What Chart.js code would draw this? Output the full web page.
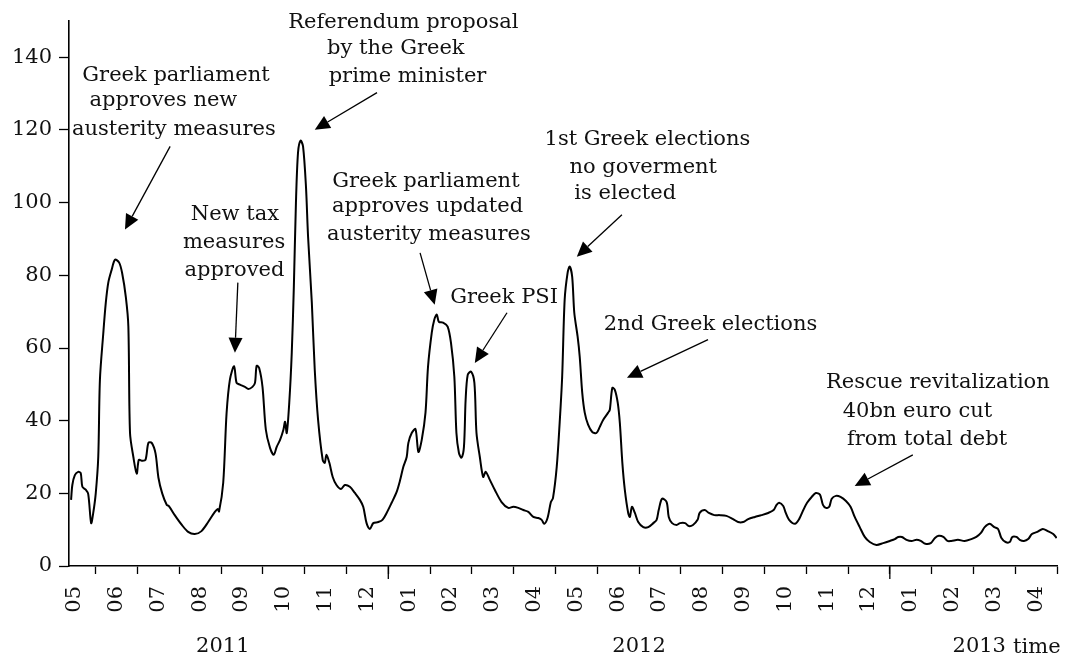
<!DOCTYPE html>
<html><head><meta charset="utf-8">
<script src="https://cdn.jsdelivr.net/npm/chart.js@4"></script>
<style>html,body{margin:0;padding:0;background:#fff}#wrap{width:1075px;height:659px;position:relative}</style>
</head><body><div id="wrap"><canvas id="c" width="1075" height="659"></canvas></div>
<script>
// x = months elapsed since start of May 2011
const monthPos = [0.41,0.44,0.50,0.58,0.64,0.68,0.76,0.82,0.89,0.94,1.00,1.06,1.10,1.18,1.24,1.30,1.38,1.46,1.56,1.63,1.72,1.78,1.82,1.90,1.98,2.03,2.10,2.19,2.26,2.34,2.43,2.50,2.59,2.70,2.75,2.89,3.06,3.21,3.37,3.53,3.69,3.85,3.92,3.95,4.05,4.13,4.21,4.31,4.37,4.45,4.57,4.65,4.75,4.81,4.85,4.91,4.99,5.07,5.17,5.26,5.33,5.41,5.49,5.53,5.57,5.63,5.69,5.74,5.79,5.84,5.90,5.96,6.03,6.08,6.17,6.24,6.32,6.43,6.48,6.52,6.59,6.67,6.76,6.87,6.96,7.08,7.20,7.32,7.40,7.48,7.56,7.64,7.76,7.86,7.96,8.08,8.20,8.28,8.36,8.44,8.48,8.56,8.65,8.72,8.80,8.89,8.95,9.04,9.10,9.16,9.21,9.31,9.42,9.50,9.58,9.63,9.69,9.75,9.81,9.85,9.90,9.98,10.06,10.11,10.19,10.27,10.33,10.43,10.55,10.71,10.87,10.99,11.11,11.23,11.35,11.47,11.59,11.67,11.73,11.81,11.89,11.94,12.03,12.10,12.16,12.22,12.29,12.34,12.40,12.45,12.53,12.58,12.64,12.70,12.78,12.88,12.98,13.06,13.14,13.26,13.30,13.36,13.42,13.49,13.54,13.60,13.66,13.74,13.78,13.83,13.90,13.98,14.10,14.22,14.34,14.42,14.47,14.55,14.66,14.71,14.79,14.90,14.98,15.10,15.19,15.29,15.40,15.45,15.57,15.67,15.80,15.93,16.09,16.25,16.37,16.49,16.61,16.77,16.93,17.09,17.22,17.29,17.35,17.45,17.51,17.59,17.73,17.83,17.93,18.02,18.13,18.23,18.33,18.40,18.47,18.55,18.61,18.71,18.82,18.95,19.06,19.16,19.28,19.40,19.52,19.68,19.84,20.00,20.12,20.20,20.29,20.40,20.52,20.64,20.74,20.85,20.98,21.08,21.17,21.28,21.38,21.47,21.63,21.79,21.95,22.07,22.18,22.27,22.39,22.50,22.59,22.67,22.77,22.87,22.93,23.03,23.11,23.21,23.31,23.40,23.53,23.66,23.78,23.91,23.99];
const interest = [18.2,22.3,25.0,25.9,25.6,21.8,21.0,19.8,11.8,14.6,20.0,30.0,51.3,64.0,72.4,78.0,81.5,84.3,83.5,80.7,74.0,66.0,36.6,30.0,25.4,29.2,29.0,29.2,33.9,33.9,31.0,24.3,20.0,16.8,16.5,14.0,11.3,9.4,8.8,9.6,12.1,14.9,15.7,15.0,22.9,42.0,51.3,55.0,50.4,49.9,49.3,48.7,49.3,50.4,55.1,54.5,49.3,37.5,32.5,30.6,32.8,34.7,37.5,39.7,36.6,44.9,58.7,76.9,100.0,113.8,117.1,115.5,104.4,90.7,72.5,54.0,40.2,29.2,28.4,30.6,28.4,24.5,22.3,21.2,22.3,21.8,20.1,18.2,16.3,11.8,10.2,11.8,12.1,12.7,14.6,17.4,20.4,23.5,27.3,30.0,33.9,36.6,37.7,31.4,34.7,42.2,54.8,64.2,67.8,69.2,67.2,67.0,65.9,61.4,52.1,36.6,31.1,29.8,32.8,45.7,52.6,53.5,50.4,36.6,30.0,24.5,25.9,23.7,20.9,17.6,16.0,16.3,16.0,15.4,14.9,13.5,13.2,12.7,11.6,13.2,17.6,18.7,27.3,39.4,52.1,73.3,80.7,82.4,79.6,69.7,63.1,57.6,47.7,42.2,38.9,36.9,36.6,38.3,40.2,42.2,43.0,49.0,48.5,44.9,39.4,28.4,20.9,14.6,13.5,16.3,14.6,12.1,10.7,10.7,11.8,12.7,15.4,18.5,17.6,13.5,11.8,11.3,11.8,11.8,11.0,11.3,12.7,14.6,15.4,14.6,14.0,14.0,13.8,12.9,12.1,12.1,12.9,13.5,14.0,14.6,15.4,16.8,17.4,16.5,14.6,12.7,11.6,12.9,15.4,17.4,19.0,20.1,19.6,16.8,16.0,16.3,18.5,19.3,19.0,17.9,16.3,13.5,10.7,8.0,6.6,5.8,6.3,6.9,7.4,8.0,8.0,7.2,6.9,7.2,6.9,6.1,6.3,7.7,8.3,8.0,6.9,6.9,7.2,6.9,7.4,8.0,9.1,10.7,11.6,10.7,10.2,7.7,6.6,6.6,8.0,8.0,7.2,6.9,7.4,8.8,9.4,10.2,9.6,8.8,7.7];
const monthLabels = ['05','06','07','08','09','10','11','12','01','02','03','04','05','06','07','08','09','10','11','12','01','02','03','04'];
const yTicks = [0,20,40,60,80,100,120,140];
const yearLabels = ['2011','2012','2013'];
const yearLabelPos = [4.04,14.0,22.14];
const yearBoundaries = [8,20];
const axisTitle = 'time';
const axisTitlePos = 22.95;
// annotation text: [text, month (centre), value (baseline)]
const noteTexts = [
  ['Greek parliament',2.92,133.4],['approves new',2.62,126.5],['austerity measures',2.87,118.5],
  ['New tax',4.33,95.3],['measures',4.31,87.6],['approved',4.32,79.9],
  ['Referendum proposal',8.36,148.2],['by the Greek',8.18,140.8],['prime minister',8.46,133.1],
  ['Greek parliament',8.90,104.4],['approves updated',8.94,97.3],['austerity measures',8.97,89.8],
  ['Greek PSI',10.77,72.5],
  ['1st Greek elections',14.20,116.0],['no goverment',14.10,108.3],['is elected',13.67,100.9],
  ['2nd Greek elections',15.71,65.0],
  ['Rescue revitalization',21.15,49.0],['40bn euro cut',20.66,41.1],['from total debt',20.89,33.3]
];
// arrows: [fromMonth, fromValue, toMonth, toValue]
const noteArrows = [
  [2.78,115.5,1.70,92.6],
  [4.40,78.0,4.33,58.7],
  [7.73,130.3,6.24,120.1],
  [8.76,86.2,9.11,71.9],
  [10.84,69.7,10.07,55.9],
  [13.59,96.7,12.51,85.1],
  [15.65,62.3,13.71,51.8],
  [20.55,30.6,19.16,22.0]
];

const FAM = "'DejaVu Serif', serif";
const TXT = '#111';
const FS = 21;

function drawArrow(ctx,x1,y1,x2,y2){
  const a = Math.atan2(y2-y1,x2-x1), L = 15, W = 7;
  const bx = x2 - L*Math.cos(a), by = y2 - L*Math.sin(a);
  ctx.beginPath(); ctx.moveTo(x1,y1); ctx.lineTo(bx,by); ctx.stroke();
  ctx.beginPath(); ctx.moveTo(x2,y2);
  ctx.lineTo(bx + W*Math.sin(a), by - W*Math.cos(a));
  ctx.lineTo(bx - W*Math.sin(a), by + W*Math.cos(a));
  ctx.closePath(); ctx.fill();
}

const notesPlugin = {
  id:'notes',
  afterDraw(chart){
    const {ctx, chartArea} = chart;
    const x = chart.scales.x, y = chart.scales.y;
    ctx.save();
    ctx.fillStyle = TXT; ctx.strokeStyle = '#000';
    ctx.font = FS + 'px ' + FAM;
    ctx.textAlign = 'center'; ctx.textBaseline = 'alphabetic';
    noteTexts.forEach(t => ctx.fillText(t[0], x.getPixelForValue(t[1]), y.getPixelForValue(t[2])));
    ctx.lineWidth = 1.3; ctx.fillStyle = '#000';
    noteArrows.forEach(a => drawArrow(ctx, x.getPixelForValue(a[0]), y.getPixelForValue(a[1]), x.getPixelForValue(a[2]), y.getPixelForValue(a[3])));
    ctx.fillStyle = TXT;
    yearLabels.forEach((l,i) => ctx.fillText(l, x.getPixelForValue(yearLabelPos[i]), chartArea.bottom + 86));
    ctx.textAlign = 'left';
    ctx.fillText(axisTitle, x.getPixelForValue(axisTitlePos), chartArea.bottom + 87);
    ctx.lineWidth = 1.3;
    yearBoundaries.forEach(m => {
      const px = x.getPixelForValue(m);
      ctx.beginPath(); ctx.moveTo(px, chartArea.bottom); ctx.lineTo(px, chartArea.bottom + 13); ctx.stroke();
    });
    ctx.restore();
  }
};

new Chart(document.getElementById('c'), {
  type:'line',
  data:{ datasets:[{
    data: monthPos.map((m,i) => ({x:m, y:interest[i]})),
    borderColor:'#000', borderWidth:2, pointRadius:0, tension:0.3, fill:false
  }]},
  options:{
    responsive:false, animation:false,
    layout:{padding:{top:21,right:18,bottom:0,left:0}},
    plugins:{legend:{display:false}, tooltip:{enabled:false}},
    scales:{
      x:{
        type:'linear', min:0.36, max:24,
        afterBuildTicks: s => { const t=[]; for(let i=0;i<24;i++){ t.push({value:i+0.5}); t.push({value:i+1}); } s.ticks = t; },
        afterFit: s => { s.height = 93; s.paddingLeft = 0; s.paddingRight = 0; },
        border:{display:true, color:'#000', width:1.6},
        grid:{drawOnChartArea:false, drawTicks:true, tickLength:8, tickWidth:1.3,
              tickColor: c => (c.tick && Number.isInteger(c.tick.value)) ? '#000' : 'rgba(0,0,0,0)'},
        ticks:{autoSkip:false, minRotation:90, maxRotation:90, padding:12, color:TXT,
               font:{family:FAM, size:FS},
               callback: v => Number.isInteger(v) ? '' : monthLabels[Math.floor(v)]}
      },
      y:{
        min:0, max:150,
        afterBuildTicks: s => { s.ticks = yTicks.map(v => ({value:v})); },
        afterFit: s => { s.width = 69; s.paddingTop = 0; s.paddingBottom = 0; },
        border:{display:true, color:'#000', width:1.6},
        grid:{drawOnChartArea:false, drawTicks:true, tickLength:10, tickWidth:1.3, tickColor:'#000'},
        ticks:{padding:7, color:TXT, font:{family:FAM, size:FS}}
      }
    }
  },
  plugins:[notesPlugin]
});
</script></body></html>
